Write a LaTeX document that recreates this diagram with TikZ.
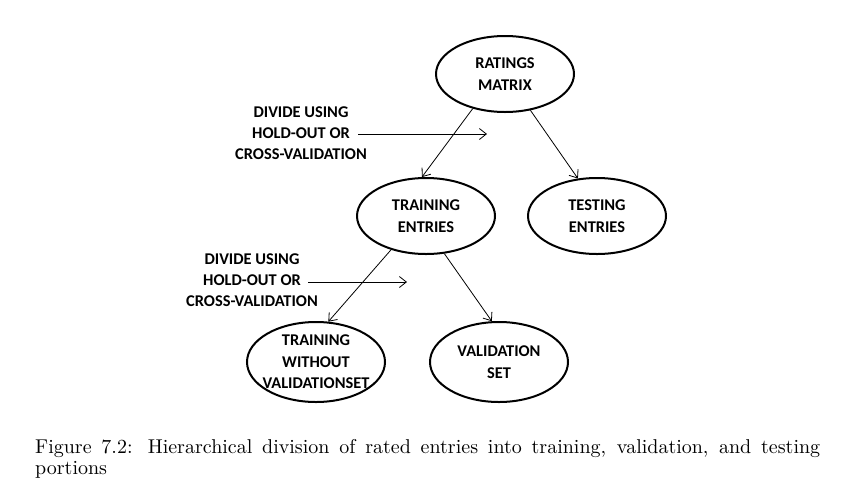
\documentclass[tikz,border=0pt]{standalone}
\usepackage{fontspec}
\newfontfamily\diafont{Carlito}
\newfontfamily\capfont{lmroman10-regular}[Extension=.otf]
\usetikzlibrary{shapes.geometric,arrows.meta}

\newlength{\du}
\setlength{\du}{1pt}

\tikzset{
  ovalnode/.style={ellipse, draw, line width=2\du, minimum width=138\du, minimum height=76\du,
    inner sep=0pt, align=center, font=\diafont\bfseries\fontsize{16.4}{21.5}\selectfont},
  dividetext/.style={align=center, inner sep=0pt, font=\diafont\bfseries\fontsize{16.4}{21}\selectfont},
  flowarrow/.style={-{Straight Barb[length=7pt,width=11pt]}, line width=0.8\du},
}

\begin{document}
\begin{tikzpicture}
\pgftransformxscale{1.000000}
\pgftransformyscale{-1.000000}
\useasboundingbox (0\du,0\du) rectangle (846\du,491\du);
% ellipses
\node[ovalnode] (ratings) at (505\du,74\du){RATINGS\\MATRIX};
\node[ovalnode] (trainentries) at (426\du,216\du){TRAINING\\ENTRIES};
\node[ovalnode] (testentries) at (597\du,216\du){TESTING\\ENTRIES};
\node[ovalnode, minimum height=80\du, inner xsep=-20\du, inner ysep=-8\du] (trainonly) at (316\du,362\du){TRAINING\\WITHOUT\\VALIDATIONSET};
\node[ovalnode, minimum height=80\du] (validset) at (499\du,362\du){VALIDATION\\SET};
% connectors
\draw[flowarrow] (ratings.227)--(trainentries.96);
\draw[flowarrow] (ratings.305)--(testentries.117);
\draw[flowarrow] (trainentries.224)--(trainonly.73);
\draw[flowarrow] (trainentries.296)--(validset.100);
% divide labels
\node[dividetext] (divideone) at (301\du,133\du){DIVIDE USING\\HOLD-OUT OR\\CROSS-VALIDATION};
\coordinate (divideonestart) at (358\du,134\du);
\coordinate (divideoneend) at (487\du,134\du);
\draw[flowarrow] (divideonestart)--(divideoneend);
\node[dividetext] (dividetwo) at (252\du,280\du){DIVIDE USING\\HOLD-OUT OR\\CROSS-VALIDATION};
\coordinate (dividetwostart) at (308\du,282\du);
\coordinate (dividetwoend) at (407\du,282\du);
\draw[flowarrow] (dividetwostart)--(dividetwoend);
% caption
\node[anchor=north west, text width=785\du, inner sep=0pt, align=justify, font=\capfont\fontsize{20}{21.5}\selectfont] (caption) at (35\du,439\du){Figure 7.2: Hierarchical division of rated entries into training, validation, and testing portions};
\end{tikzpicture}
\end{document}
